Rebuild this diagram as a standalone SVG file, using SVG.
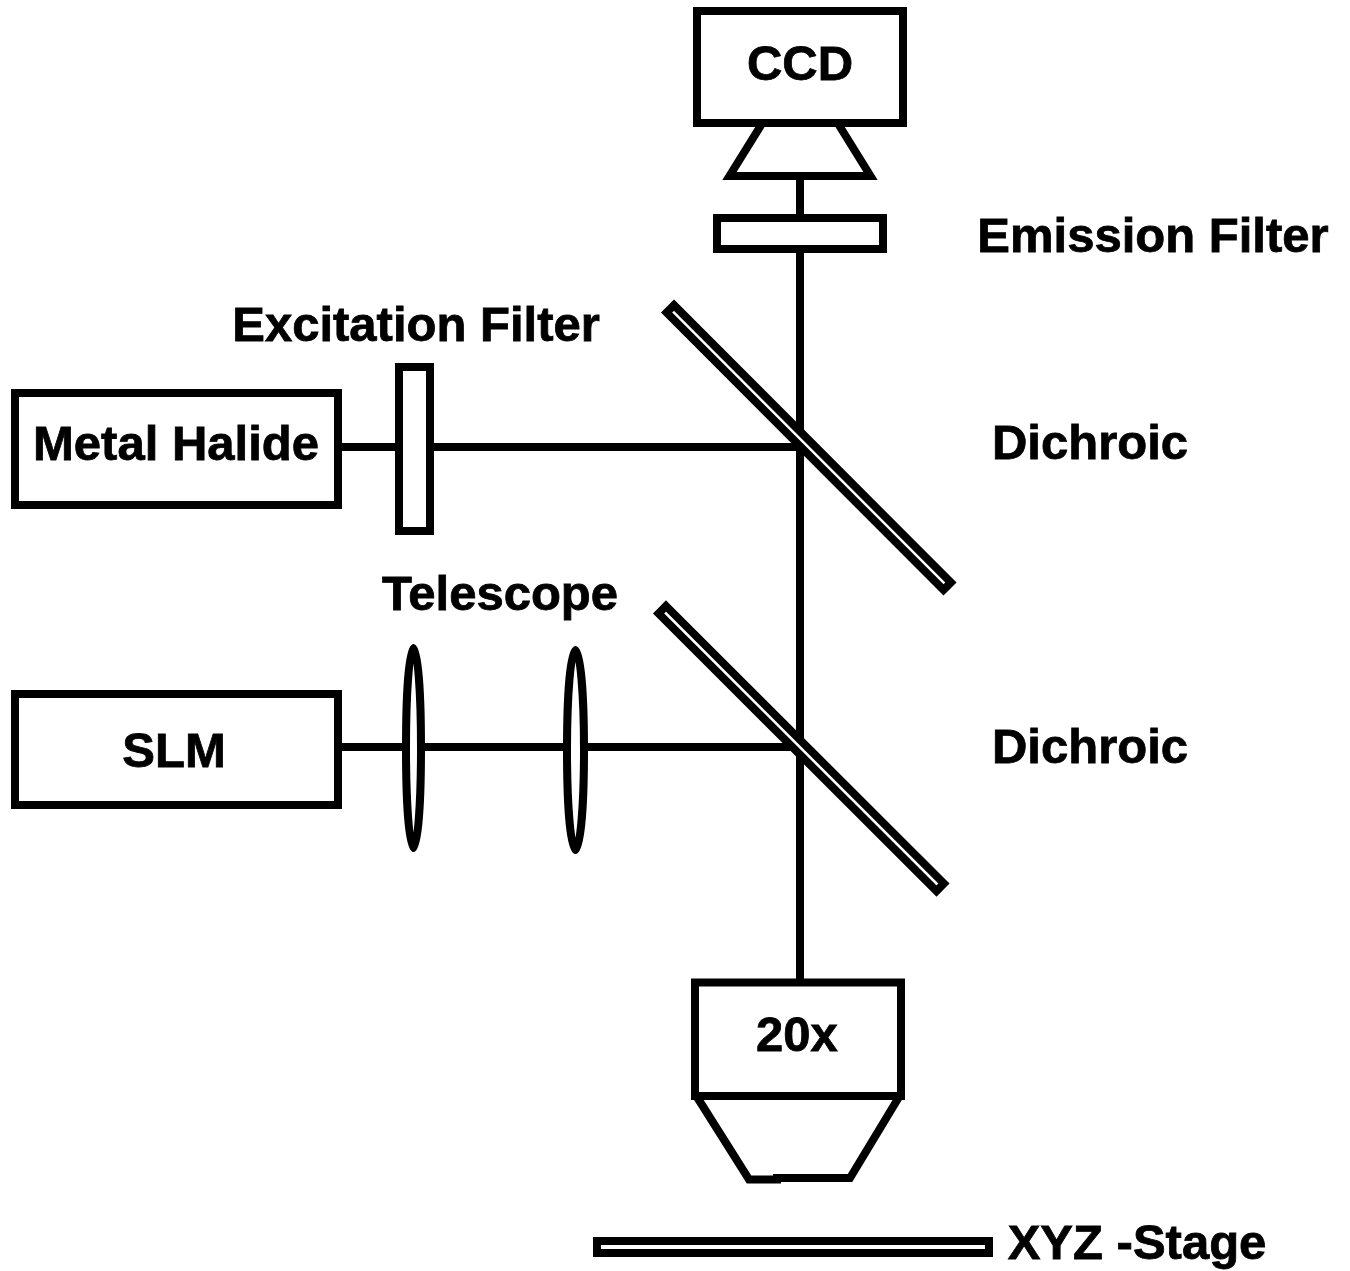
<svg xmlns="http://www.w3.org/2000/svg" width="1350" height="1271" viewBox="0 0 1350 1271">
<style>
.s{fill:#fff;stroke:#000;stroke-width:8}
.l{fill:none;stroke:#000;stroke-width:8}
text{font-family:"Liberation Sans",Arial,sans-serif;font-weight:bold;font-size:49px;fill:#000;stroke:#000;stroke-width:.8;text-anchor:middle}
</style>
<rect width="1350" height="1271" fill="#fff"/>
<g id="connectors">
<path class="l" d="M800 176V218M800 249V980M339 447H398M431 447H800M339 747H800"/>
</g>
<g id="ccd"><polygon class="s" points="763,122 837,122 870.5,176 729.5,176"/><rect class="s" x="697" y="11" width="206" height="112"/><text x="800" y="80">CCD</text></g>
<g id="emission-filter"><rect class="s" x="717" y="218" width="166" height="31"/><text x="1153" y="252">Emission Filter</text></g>
<g id="excitation-filter"><rect class="s" x="399" y="367" width="31" height="164"/><text x="416" y="341">Excitation Filter</text></g>
<g id="metal-halide"><rect class="s" x="15" y="393" width="323" height="112"/><text x="176" y="460">Metal Halide</text></g>
<g id="slm"><rect class="s" x="15" y="694" width="323" height="111"/><text x="174" y="767">SLM</text></g>
<g id="dichroic-1"><polygon class="s" points="674,305.1 950.9,582.5 943.5,589.9 666.6,312.5"/><text x="1090" y="459">Dichroic</text></g>
<g id="dichroic-2"><polygon class="s" points="666,606 943.9,883.5 936.5,891 658.6,613.5"/><text x="1090" y="763">Dichroic</text></g>
<g id="telescope"><ellipse class="s" cx="413.5" cy="748" rx="7.5" ry="100"/><ellipse class="s" cx="575.5" cy="750" rx="8.5" ry="100"/><text x="500" y="610">Telescope</text></g>
<g id="objective"><path class="s" d="M697 1097L749 1179.5H777V1178H850L899 1097"/><rect class="s" x="695" y="982.5" width="206" height="113.5"/><text x="797" y="1051">20x</text></g>
<g id="stage"><rect class="s" x="597" y="1241" width="392" height="12"/><text x="1137" y="1259">XYZ -Stage</text></g>
</svg>
